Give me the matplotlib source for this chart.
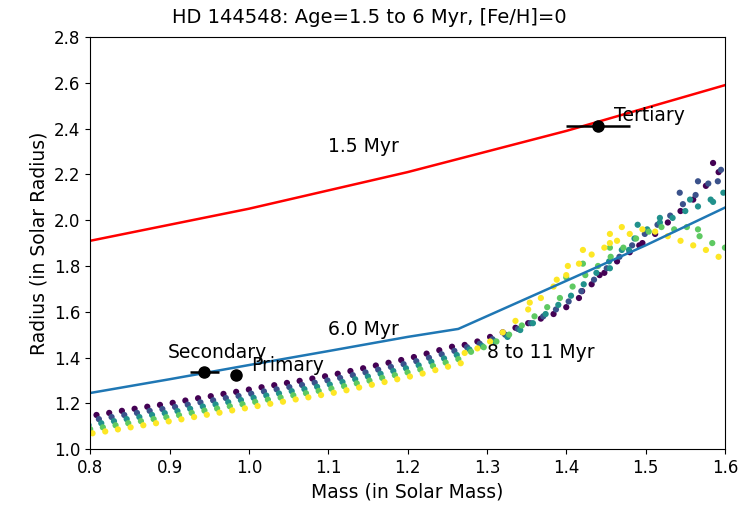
import matplotlib
matplotlib.use("Agg")
import matplotlib.pyplot as plt

# isochrone radii (solar) against mass (solar)
mass_1p5 = [0.80, 0.90, 1.00, 1.10, 1.20, 1.30, 1.40, 1.50, 1.60]
rad_1p5 = [1.91, 1.98, 2.05, 2.13, 2.21, 2.30, 2.39, 2.49, 2.59]

mass_6p0 = [0.80, 0.90, 1.00, 1.10, 1.20, 1.264, 1.40, 1.50, 1.60]
rad_6p0 = [1.245, 1.305, 1.367, 1.428, 1.490, 1.525, 1.735, 1.890, 2.055]

# 8 to 11 Myr model points, one list per age
ages = [8.0, 8.75, 9.5, 10.25, 11.0]

mass_8p0 = [0.792, 0.808, 0.824, 0.840, 0.856, 0.872, 0.888, 0.904, 0.920, 0.936,
            0.952, 0.968, 0.984, 1.000, 1.016, 1.032, 1.048, 1.064, 1.080, 1.096,
            1.112, 1.128, 1.144, 1.160, 1.176, 1.192, 1.208, 1.224, 1.240, 1.256,
            1.272, 1.288, 1.304, 1.320, 1.336, 1.352, 1.368, 1.384, 1.400, 1.416,
            1.432, 1.448, 1.464, 1.480, 1.496, 1.512, 1.528, 1.544, 1.560, 1.576, 1.592,
            1.420, 1.442, 1.492, 1.585]
rad_8p0 = [1.141, 1.149, 1.158, 1.167, 1.176, 1.185, 1.193, 1.202, 1.212, 1.222,
           1.231, 1.241, 1.250, 1.260, 1.270, 1.279, 1.289, 1.298, 1.308, 1.318,
           1.329, 1.341, 1.353, 1.365, 1.377, 1.389, 1.402, 1.417, 1.432, 1.447,
           1.455, 1.470, 1.490, 1.510, 1.530, 1.550, 1.570, 1.590, 1.620, 1.660,
           1.720, 1.770, 1.820, 1.860, 1.900, 1.940, 1.990, 2.040, 2.090, 2.150, 2.210,
           1.690, 1.760, 1.890, 2.250]

mass_8p75 = [0.795, 0.811, 0.827, 0.843, 0.859, 0.875, 0.891, 0.907, 0.923, 0.939,
             0.955, 0.971, 0.987, 1.003, 1.019, 1.035, 1.051, 1.067, 1.083, 1.099,
             1.115, 1.131, 1.147, 1.163, 1.179, 1.195, 1.211, 1.227, 1.243, 1.259,
             1.275, 1.291, 1.307, 1.323, 1.339, 1.355, 1.371, 1.387, 1.403, 1.419,
             1.435, 1.451, 1.467, 1.483, 1.499, 1.515, 1.531, 1.547, 1.563, 1.579, 1.595,
             1.543, 1.566, 1.591]
rad_8p75 = [1.123, 1.131, 1.140, 1.149, 1.158, 1.167, 1.175, 1.184, 1.194, 1.204,
            1.213, 1.223, 1.232, 1.242, 1.252, 1.261, 1.271, 1.280, 1.290, 1.300,
            1.311, 1.323, 1.335, 1.347, 1.359, 1.371, 1.384, 1.399, 1.414, 1.429,
            1.445, 1.460, 1.480, 1.500, 1.525, 1.550, 1.580, 1.610, 1.645, 1.690,
            1.740, 1.790, 1.840, 1.890, 1.940, 1.980, 2.020, 2.070, 2.110, 2.160, 2.220,
            2.120, 2.170, 2.170]

mass_9p5 = [0.798, 0.814, 0.830, 0.846, 0.862, 0.878, 0.894, 0.910, 0.926, 0.942,
            0.958, 0.974, 0.990, 1.006, 1.022, 1.038, 1.054, 1.070, 1.086, 1.102,
            1.118, 1.134, 1.150, 1.166, 1.182, 1.198, 1.214, 1.230, 1.246, 1.262,
            1.278, 1.294, 1.310, 1.326, 1.342, 1.358, 1.374, 1.390, 1.406, 1.422,
            1.438, 1.454, 1.470, 1.486, 1.502, 1.518, 1.534, 1.550, 1.566, 1.582, 1.598,
            1.455, 1.479, 1.490, 1.518, 1.556, 1.585]
rad_9p5 = [1.105, 1.113, 1.122, 1.131, 1.140, 1.149, 1.157, 1.166, 1.176, 1.186,
           1.195, 1.205, 1.214, 1.224, 1.234, 1.243, 1.253, 1.262, 1.272, 1.282,
           1.293, 1.305, 1.317, 1.329, 1.341, 1.353, 1.366, 1.381, 1.396, 1.411,
           1.435, 1.450, 1.470, 1.490, 1.520, 1.550, 1.590, 1.630, 1.670, 1.720,
           1.770, 1.820, 1.870, 1.920, 1.960, 1.990, 2.010, 2.040, 2.060, 2.090, 2.120,
           1.790, 1.870, 1.980, 2.010, 2.090, 2.080]

mass_10p25 = [0.800, 0.816, 0.832, 0.848, 0.864, 0.880, 0.896, 0.912, 0.928, 0.944,
              0.960, 0.976, 0.992, 1.008, 1.024, 1.040, 1.056, 1.072, 1.088, 1.104,
              1.120, 1.136, 1.152, 1.168, 1.184, 1.200, 1.216, 1.232, 1.248, 1.264,
              1.280, 1.296, 1.312, 1.328, 1.344, 1.360, 1.376, 1.392, 1.408, 1.424,
              1.440, 1.456, 1.472, 1.488, 1.504, 1.520, 1.536, 1.552, 1.568, 1.584, 1.600,
              1.400, 1.421, 1.455, 1.566]
rad_10p25 = [1.087, 1.095, 1.104, 1.113, 1.122, 1.131, 1.139, 1.148, 1.158, 1.168,
             1.177, 1.187, 1.196, 1.206, 1.216, 1.225, 1.235, 1.244, 1.254, 1.264,
             1.275, 1.287, 1.299, 1.311, 1.323, 1.335, 1.348, 1.363, 1.378, 1.393,
             1.425, 1.445, 1.470, 1.500, 1.540, 1.580, 1.620, 1.660, 1.710, 1.760,
             1.800, 1.840, 1.880, 1.920, 1.950, 1.970, 1.960, 1.970, 1.930, 1.900, 1.880,
             1.750, 1.810, 1.880, 1.960]

mass_11p0 = [0.803, 0.819, 0.835, 0.851, 0.867, 0.883, 0.899, 0.915, 0.931, 0.947,
             0.963, 0.979, 0.995, 1.011, 1.027, 1.043, 1.059, 1.075, 1.091, 1.107,
             1.123, 1.139, 1.155, 1.171, 1.187, 1.203, 1.219, 1.235, 1.251, 1.267,
             1.272, 1.288, 1.304, 1.320, 1.336, 1.352, 1.368, 1.384, 1.400, 1.416,
             1.432, 1.448, 1.464, 1.480, 1.496, 1.512, 1.528, 1.544, 1.560, 1.576, 1.592,
             1.354, 1.388, 1.402, 1.421, 1.455, 1.455, 1.470]
rad_11p0 = [1.069, 1.077, 1.086, 1.095, 1.104, 1.113, 1.121, 1.130, 1.140, 1.150,
            1.159, 1.169, 1.178, 1.188, 1.198, 1.207, 1.217, 1.226, 1.236, 1.246,
            1.257, 1.269, 1.281, 1.293, 1.305, 1.317, 1.330, 1.345, 1.360, 1.375,
            1.420, 1.440, 1.470, 1.510, 1.560, 1.610, 1.660, 1.710, 1.760, 1.810,
            1.850, 1.880, 1.910, 1.940, 1.960, 1.950, 1.930, 1.910, 1.890, 1.870, 1.840,
            1.640, 1.740, 1.800, 1.870, 1.900, 1.940, 1.970]

iso_mass = [mass_8p0, mass_8p75, mass_9p5, mass_10p25, mass_11p0]
iso_rad = [rad_8p0, rad_8p75, rad_9p5, rad_10p25, rad_11p0]

# HD 144548 components
star_names = ['Primary', 'Secondary', 'Tertiary']
star_mass = [0.984, 0.944, 1.44]
star_mass_err = [0.006, 0.018, 0.04]
star_rad = [1.325, 1.335, 2.41]
star_rad_err = [0.010, 0.010, 0.02]

fig = plt.figure(figsize=(7.39, 5.08), dpi=100)
ax = fig.add_axes([0.122, 0.116, 0.859, 0.811])

ax.plot(mass_1p5, rad_1p5, color='red', lw=1.8)
ax.plot(mass_6p0, rad_6p0, color='#1f77b4', lw=1.8)

for age, m, r in zip(ages, iso_mass, iso_rad):
    ax.scatter(m, r, c=[age] * len(m), cmap='viridis', vmin=ages[0], vmax=ages[-1],
               s=20, linewidths=0)

ax.errorbar(star_mass, star_rad, xerr=star_mass_err, yerr=star_rad_err,
            fmt='o', color='black', ms=8, lw=1.8)

ax.text(1.003, 1.34, 'Primary', fontsize=13.5)
ax.text(0.898, 1.40, 'Secondary', fontsize=13.5)
ax.text(1.46, 2.435, 'Tertiary', fontsize=13.5)
ax.text(1.1, 2.30, '1.5 Myr', fontsize=13.5)
ax.text(1.1, 1.50, '6.0 Myr', fontsize=13.5)
ax.text(1.3, 1.40, '8 to 11 Myr', fontsize=13.5)

ax.set_xlim(0.8, 1.6)
ax.set_ylim(1.0, 2.8)
fig.suptitle('HD 144548: Age=1.5 to 6 Myr, [Fe/H]=0', fontsize=14, y=0.985)
ax.set_xlabel('Mass (in Solar Mass)', fontsize=13.5)
ax.set_ylabel('Radius (in Solar Radius)', fontsize=13.5)
ax.tick_params(labelsize=12)

fig.savefig('out.png', dpi=100)
